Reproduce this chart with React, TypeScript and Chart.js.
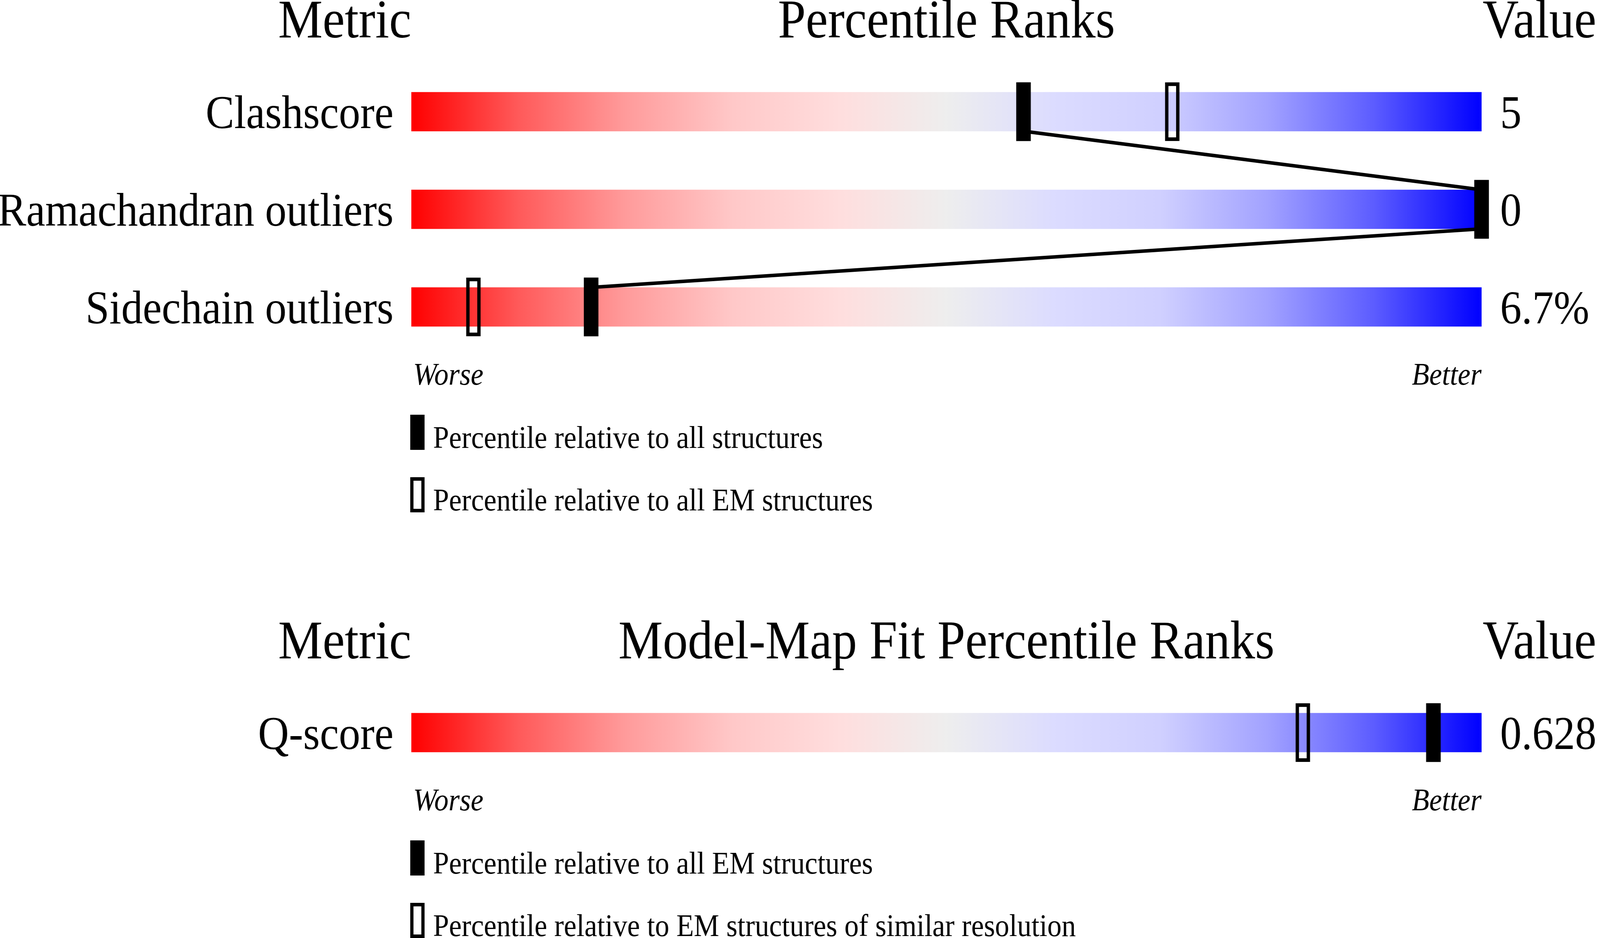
import React, { useEffect, useRef } from "react";
import { Chart, registerables } from "chart.js";

Chart.register(...registerables);

// ---------- data ----------
const metricLabels = ["Clashscore", "Ramachandran outliers", "Sidechain outliers"];
const metricValues = ["5", "0", "6.7%"];
const pctAllStructures = [57.2, 100, 16.8];
const pctAllEMStructures = [71.1, 100, 5.8];

const fitLabels = ["Q-score"];
const fitValues = ["0.628"];
const pctFitAllEM = [95.5];
const pctFitSimilarRes = [83.3];

const titlesTop = ["Metric", "Percentile Ranks", "Value"];
const titlesBottom = ["Metric", "Model-Map Fit Percentile Ranks", "Value"];
const scaleEnds = ["Worse", "Better"];
const legendTop = ["Percentile relative to all structures", "Percentile relative to all EM structures"];
const legendBottom = [
  "Percentile relative to all EM structures",
  "Percentile relative to EM structures of similar resolution",
];

const gradientStops: [number, string][] = [
  [0, "rgb(255,0,0)"],
  [0.1, "rgb(255,90,90)"],
  [0.2, "rgb(255,155,155)"],
  [0.3, "rgb(255,200,200)"],
  [0.4, "rgb(255,222,222)"],
  [0.5, "rgb(238,238,238)"],
  [0.6, "rgb(220,220,255)"],
  [0.7, "rgb(208,208,255)"],
  [0.8, "rgb(162,162,255)"],
  [0.9, "rgb(92,92,255)"],
  [1, "rgb(0,0,255)"],
];

// ---------- style constants (drawing pixels of the 4485x2402 picture) ----------
const FONT = "'Liberation Serif', 'Times New Roman', serif";
const W = 4485;
const H = 2402;
const LEFT_W = 1153;
const RIGHT_W = 332;
const BAR_THICK = 100;
const MARK_THICK = 150;
const MARK_HALF = 0.67; // half marker width in percentile units (~20px)
const TITLE_SIZE = 140;
const LABEL_SIZE = 120;
const SMALL_SIZE = 80;

type Section = {
  labels: string[];
  values: string[];
  solid: number[];
  open: number[];
  titles: string[];
  legend: string[];
  connect: boolean;
  height: number;
  padTop: number;
  padBottom: number;
};

const sections: Section[] = [
  {
    labels: metricLabels,
    values: metricValues,
    solid: pctAllStructures,
    open: pctAllEMStructures,
    titles: titlesTop,
    legend: legendTop,
    connect: true,
    height: 1400,
    padTop: 161,
    padBottom: 489,
  },
  {
    labels: fitLabels,
    values: fitValues,
    solid: pctFitAllEM,
    open: pctFitSimilarRes,
    titles: titlesBottom,
    legend: legendBottom,
    connect: false,
    height: 1002,
    padTop: 351,
    padBottom: 401,
  },
];

function decorPlugin(sec: Section) {
  return {
    id: "decor",
    afterDatasetsDraw(chart: any) {
      const ctx: CanvasRenderingContext2D = chart.ctx;
      const xs = chart.scales.x;
      const left = xs.getPixelForValue(0);
      const right = xs.getPixelForValue(100);
      const bars = chart.getDatasetMeta(2).data;
      const n = bars.length;
      const top0 = bars[0].y - bars[0].height / 2;
      const lastBottom = bars[n - 1].y + bars[n - 1].height / 2;

      ctx.save();
      // connecting line between the solid markers
      if (sec.connect) {
        ctx.strokeStyle = "#000";
        ctx.lineWidth = 9;
        ctx.lineCap = "butt";
        ctx.beginPath();
        for (let i = 0; i < n - 1; i++) {
          const a = bars[i];
          const b = bars[i + 1];
          ctx.moveTo(xs.getPixelForValue(sec.solid[i]), a.y + a.height / 2);
          ctx.lineTo(xs.getPixelForValue(sec.solid[i + 1]), b.y - b.height / 2);
        }
        ctx.stroke();
      }

      ctx.fillStyle = "#000";
      ctx.textBaseline = "alphabetic";
      // titles
      ctx.font = `${TITLE_SIZE}px ${FONT}`;
      const tBase = top0 - 140;
      ctx.textAlign = "right";
      ctx.fillText(sec.titles[0], left, tBase);
      ctx.textAlign = "center";
      ctx.fillText(sec.titles[1], (left + right) / 2, tBase);
      ctx.textAlign = "left";
      ctx.fillText(sec.titles[2], right + 3, tBase);

      // worse / better
      ctx.font = `italic ${SMALL_SIZE}px ${FONT}`;
      const wBase = lastBottom + 149;
      ctx.textAlign = "left";
      ctx.fillText(scaleEnds[0], left + 5, wBase);
      ctx.textAlign = "right";
      ctx.fillText(scaleEnds[1], right, wBase);

      // legend
      ctx.font = `${SMALL_SIZE}px ${FONT}`;
      ctx.textAlign = "left";
      const iconX = left - 3;
      const iconW = 40;
      const iconH = 90;
      const y1 = lastBottom + 226;
      const y2 = lastBottom + 386;
      ctx.fillRect(iconX, y1, iconW, iconH);
      ctx.fillText(sec.legend[0], left + 61, y1 + 85);
      ctx.beginPath();
      ctx.rect(iconX, y2, iconW, iconH);
      ctx.rect(iconX + 9, y2 + 9, iconW - 18, iconH - 18);
      ctx.fill("evenodd");
      ctx.fillText(sec.legend[1], left + 61, y2 + 85);
      ctx.restore();
    },
  };
}

function buildChart(canvas: HTMLCanvasElement, sec: Section) {
  const gradient = (c: any) => {
    const chart = c.chart;
    const xs = chart.scales && chart.scales.x;
    if (!xs || !chart.chartArea) return "#eeeeee";
    const g = chart.ctx.createLinearGradient(xs.getPixelForValue(0), 0, xs.getPixelForValue(100), 0);
    gradientStops.forEach(([o, col]) => g.addColorStop(o, col));
    return g;
  };
  return new Chart(canvas, {
    type: "bar",
    data: {
      labels: sec.labels,
      datasets: [
        {
          label: "solid",
          data: sec.solid.map((p) => [p - MARK_HALF, p + MARK_HALF]) as any,
          backgroundColor: "#000",
          borderWidth: 0,
          barThickness: MARK_THICK,
          grouped: false,
          order: 1,
          clip: false as any,
        },
        {
          label: "open",
          data: sec.open.map((p) => [p - MARK_HALF, p + MARK_HALF]) as any,
          backgroundColor: "rgba(0,0,0,0)",
          borderColor: "#000",
          borderWidth: 9,
          borderSkipped: false,
          barThickness: MARK_THICK,
          grouped: false,
          order: 2,
          clip: false as any,
        },
        {
          label: "range",
          data: sec.labels.map(() => [0, 100]) as any,
          backgroundColor: gradient,
          borderWidth: 0,
          barThickness: BAR_THICK,
          grouped: false,
          order: 3,
        },
      ],
    },
    options: {
      indexAxis: "y",
      responsive: false,
      animation: false,
      devicePixelRatio: 1,
      events: [],
      layout: { padding: { top: sec.padTop, bottom: sec.padBottom, left: 0, right: 0 } },
      plugins: { legend: { display: false }, tooltip: { enabled: false }, title: { display: false } },
      scales: {
        x: { type: "linear", min: 0, max: 100, display: false },
        y: {
          type: "category",
          position: "left",
          offset: true,
          grid: { display: false, drawTicks: false },
          border: { display: false },
          ticks: {
            color: "#000",
            padding: 50,
            labelOffset: 10,
            autoSkip: false,
            font: { family: FONT, size: LABEL_SIZE },
          },
          afterFit: (s: any) => {
            s.width = LEFT_W;
          },
        },
        y2: {
          type: "category",
          position: "right",
          labels: sec.values,
          offset: true,
          grid: { display: false, drawTicks: false },
          border: { display: false },
          ticks: {
            color: "#000",
            padding: 52,
            labelOffset: 10,
            autoSkip: false,
            font: { family: FONT, size: LABEL_SIZE },
          },
          afterFit: (s: any) => {
            s.width = RIGHT_W;
          },
        },
      } as any,
    },
    plugins: [decorPlugin(sec)],
  } as any);
}

function SectionChart({ sec, top, kx, ky }: { sec: Section; top: number; kx: number; ky: number }) {
  const ref = useRef<HTMLCanvasElement | null>(null);
  useEffect(() => {
    if (!ref.current) return;
    const chart = buildChart(ref.current, sec);
    return () => chart.destroy();
  }, [sec]);
  return (
    <canvas
      ref={ref}
      width={W}
      height={sec.height}
      style={{
        position: "absolute",
        left: 0,
        top: top * ky,
        width: W * kx,
        height: sec.height * ky,
        display: "block",
      }}
    />
  );
}

export default function App() {
  // The picture is drawn at 4485x2402 and fitted to the actual viewport.
  const vw = typeof window !== "undefined" ? window.innerWidth || W : W;
  const vh = typeof window !== "undefined" ? window.innerHeight || H : H;
  const kx = vw / W;
  const ky = vh / H;
  return (
    <div
      style={{
        position: "absolute",
        left: 0,
        top: 0,
        width: W * kx,
        height: H * ky,
        background: "#fff",
        overflow: "hidden",
      }}
    >
      <SectionChart sec={sections[0]} top={0} kx={kx} ky={ky} />
      <SectionChart sec={sections[1]} top={sections[0].height} kx={kx} ky={ky} />
    </div>
  );
}
